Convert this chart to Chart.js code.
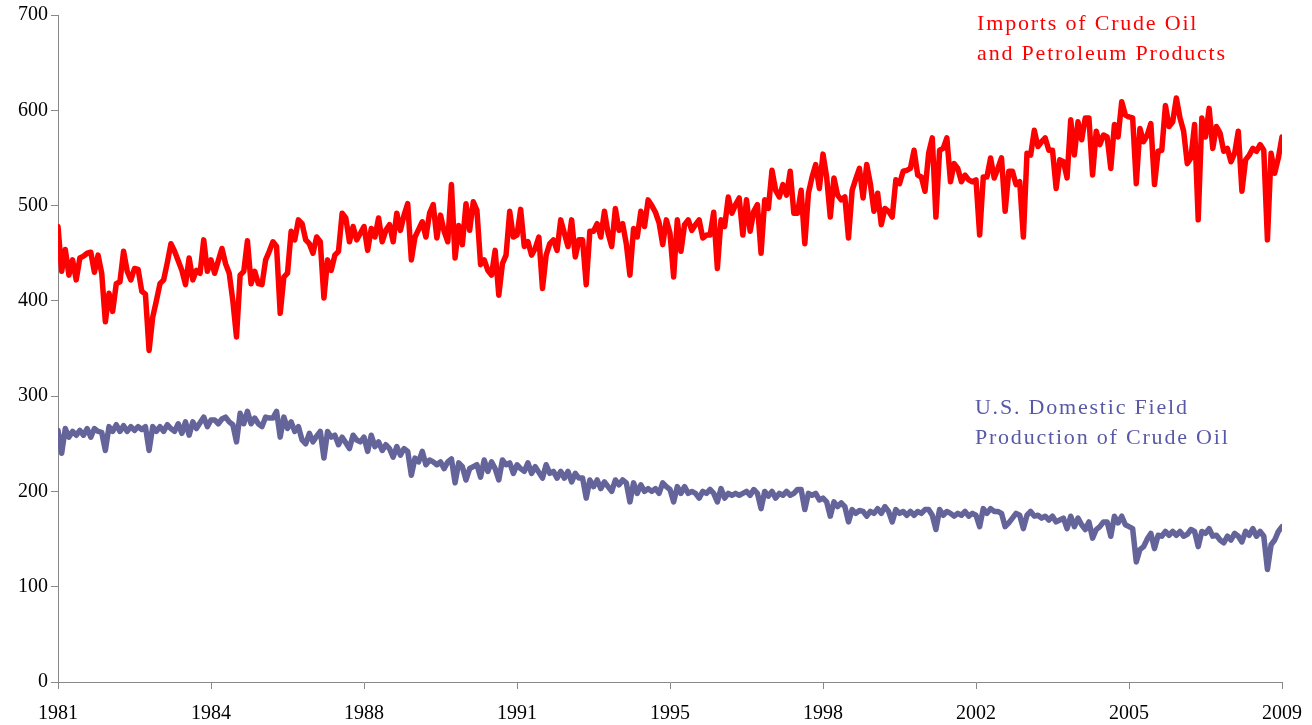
<!DOCTYPE html>
<html>
<head>
<meta charset="utf-8">
<script src="https://cdn.jsdelivr.net/npm/chart.js@4.4.0/dist/chart.umd.min.js"></script>
<style>
  html, body { margin: 0; padding: 0; background: #fff; }
  #wrap { width: 1312px; height: 725px; }
</style>
</head>
<body>
<div id="wrap"><canvas id="myChart" width="1312" height="725"></canvas></div>
<script>
// ticks every 42 months, Jan 1981 .. Jan 2009
const tickLabels = ["1981", "1984", "1988", "1991", "1995", "1998", "2002", "2005", "2009"];

// monthly, one row per year
const imports = [
  478, 431, 454, 427, 443, 422, 445, 447, 450, 451, 430, 448,
  429, 378, 408, 389, 418, 420, 452, 431, 422, 434, 433, 410,
  407, 348, 383, 400, 418, 422, 440, 460, 452, 442, 432, 417,
  445, 422, 432, 429, 464, 431, 443, 429, 442, 455, 439, 429,
  400, 362, 427, 431, 463, 418, 431, 418, 417, 443, 452, 462,
  457, 387, 425, 429, 473, 464, 485, 481, 464, 460, 450, 467,
  462, 403, 443, 432, 448, 452, 492, 487, 462, 478, 464, 471,
  478, 453, 476, 467, 487, 462, 474, 480, 462, 492, 474, 490,
  502, 443, 467, 475, 483, 467, 492, 501, 466, 490, 473, 462,
  522, 445, 479, 459, 502, 474, 504, 495, 438, 443, 432, 427,
  453, 406, 439, 448, 494, 467, 469, 496, 457, 462, 448, 455,
  467, 413, 448, 460, 464, 453, 485, 471, 457, 485, 446, 464,
  464, 417, 473, 473, 481, 467, 494, 471, 457, 497, 474, 481,
  460, 427, 476, 467, 494, 478, 506, 500, 493, 482, 459, 485,
  471, 425, 485, 452, 480, 485, 474, 480, 485, 466, 469, 469,
  493, 434, 485, 478, 509, 492, 501, 508, 469, 506, 473, 494,
  501, 450, 506, 497, 537, 516, 509, 522, 511, 536, 492, 492,
  516, 460, 513, 530, 543, 518, 554, 530, 488, 529, 511, 506,
  509, 466, 516, 528, 539, 508, 543, 523, 494, 513, 480, 497,
  494, 488, 527, 523, 536, 537, 539, 558, 532, 530, 515, 555,
  571, 488, 558, 560, 571, 525, 544, 539, 525, 532, 527, 525,
  527, 469, 530, 530, 550, 529, 539, 550, 494, 536, 536, 522,
  525, 467, 555, 553, 579, 562, 567, 571, 558, 558, 518, 548,
  546, 529, 590, 553, 588, 569, 592, 592, 532, 578, 564, 574,
  572, 539, 585, 572, 609, 595, 593, 592, 523, 581, 567, 574,
  586, 522, 557, 558, 605, 583, 588, 613, 592, 578, 544, 550,
  585, 485, 592, 572, 602, 560, 583, 576, 557, 560, 546, 555,
  578, 515, 548, 553, 560, 557, 564, 558, 464, 555, 534, 550,
  572
];

const production = [
  264, 240, 266, 257, 263, 259, 264, 259, 266, 257, 266, 263,
  262, 243, 268, 263, 270, 263, 269, 263, 268, 264, 268, 265,
  268, 243, 268, 263, 268, 263, 270, 266, 263, 271, 261, 273,
  259, 273, 266, 272, 278, 268, 275, 275, 271, 276, 278, 273,
  270, 252, 282, 271, 284, 271, 277, 271, 268, 278, 277, 277,
  284, 257, 278, 266, 273, 263, 268, 254, 250, 261, 252, 258,
  263, 235, 263, 257, 259, 249, 257, 251, 245, 259, 254, 252,
  257, 242, 259, 247, 252, 243, 249, 245, 236, 247, 238, 245,
  242, 217, 235, 231, 242, 228, 233, 231, 228, 231, 224, 231,
  234, 209, 230, 226, 212, 224, 226, 228, 215, 233, 221, 231,
  224, 212, 233, 228, 230, 219, 228, 224, 221, 230, 219, 226,
  220, 214, 228, 219, 221, 214, 221, 214, 221, 210, 219, 214,
  214, 193, 212, 205, 212, 203, 210, 205, 200, 212, 207, 212,
  209, 189, 209, 198, 207, 200, 203, 200, 203, 198, 209, 205,
  202, 189, 205, 198, 205, 198, 200, 198, 193, 200, 198, 202,
  198, 189, 203, 193, 198, 196, 198, 196, 198, 200, 196, 202,
  198, 182, 200, 195, 200, 193, 198, 196, 200, 196, 198, 202,
  202, 181, 198, 196, 198, 191, 193, 189, 174, 189, 184, 188,
  184, 168, 181, 177, 180, 179, 174, 179, 177, 182, 177, 184,
  179, 168, 181, 177, 179, 175, 179, 175, 179, 177, 181, 181,
  175, 160, 181, 175, 179, 177, 174, 177, 175, 179, 174, 177,
  175, 163, 182, 177, 182, 179, 179, 177, 163, 167, 172, 177,
  175, 161, 175, 179, 174, 175, 172, 174, 170, 174, 168, 170,
  172, 161, 174, 163, 172, 165, 160, 168, 151, 160, 163, 168,
  168, 153, 174, 167, 174, 165, 163, 161, 126, 139, 142, 150,
  156, 140, 154, 153, 158, 154, 158, 154, 158, 153, 155, 160,
  158, 142, 158, 156, 161, 153, 154, 149, 146, 153, 149, 156,
  153, 147, 158, 154, 161, 153, 158, 153, 118, 144, 149, 158,
  163
];

const importsNote = ["Imports of Crude Oil", "and Petroleum Products"];
const productionNote = ["U.S. Domestic Field", "Production of Crude Oil"];

const chart = document.getElementById("myChart");
const lastMonth = imports.length - 1;

const toPoints = (values) => values.map((v, i) => ({ x: i, y: v }));

// the two text notes, placed in data units
const notes = {
  id: "notes",
  afterDraw(c, args, opts) {
    const { ctx, scales: { x, y } } = c;
    ctx.save();
    ctx.font = opts.font;
    ctx.letterSpacing = opts.letterSpacing;
    ctx.textBaseline = "alphabetic";
    opts.items.forEach((item) => {
      ctx.fillStyle = item.color;
      const left = x.getPixelForValue(item.x);
      const top = y.getPixelForValue(item.y);
      item.lines.forEach((line, k) => {
        ctx.fillText(line, left, top + k * opts.lineHeight);
      });
    });
    ctx.restore();
  }
};

const axisFont = { family: "'Liberation Serif', 'DejaVu Serif', serif", size: 20 };

const config = {
  type: "line",
  data: {
    datasets: [
      {
        label: "U.S. Domestic Field Production of Crude Oil",
        data: toPoints(production),
        borderColor: "rgb(100, 100, 155)",
        borderWidth: 5.5,
        pointRadius: 0,
        borderJoinStyle: "round",
        borderCapStyle: "round",
        tension: 0
      },
      {
        label: "Imports of Crude Oil and Petroleum Products",
        data: toPoints(imports),
        borderColor: "#ff0000",
        borderWidth: 5.5,
        pointRadius: 0,
        borderJoinStyle: "round",
        borderCapStyle: "round",
        tension: 0
      }
    ]
  },
  options: {
    responsive: false,
    animation: false,
    layout: { padding: { left: 0, top: 15, right: 30, bottom: 0 } },
    plugins: {
      legend: { display: false },
      tooltip: { enabled: false },
      notes: {
        font: "22px 'Liberation Serif', 'DejaVu Serif', serif",
        letterSpacing: "1.8px",
        lineHeight: 30,
        items: [
          { lines: importsNote, color: "#ff0000", x: 252.3, y: 684 },
          { lines: productionNote, color: "rgb(88, 88, 168)", x: 251.7, y: 281 }
        ]
      }
    },
    scales: {
      x: {
        type: "linear",
        min: 0,
        max: lastMonth,
        afterBuildTicks: (scale) => {
          scale.ticks = tickLabels.map((t, i) => ({ value: i * lastMonth / (tickLabels.length - 1) }));
        },
        afterFit: (scale) => {
          scale.height = 43;
          scale.paddingLeft = 0;
          scale.paddingRight = 0;
        },
        ticks: {
          autoSkip: false,
          maxRotation: 0,
          color: "#000",
          font: axisFont,
          padding: 13,
          callback: (value, index) => tickLabels[index]
        },
        grid: { drawOnChartArea: false, color: "#888", tickLength: 7 },
        border: { color: "#888", width: 1 }
      },
      y: {
        min: 0,
        max: 700,
        afterFit: (scale) => { scale.width = 58; },
        ticks: { stepSize: 100, color: "#000", font: axisFont, padding: 3 },
        grid: { drawOnChartArea: false, color: "#888", tickLength: 7 },
        border: { color: "#888", width: 1 }
      }
    }
  },
  plugins: [notes]
};

const myChart = new Chart(chart, config);
</script>
</body>
</html>
